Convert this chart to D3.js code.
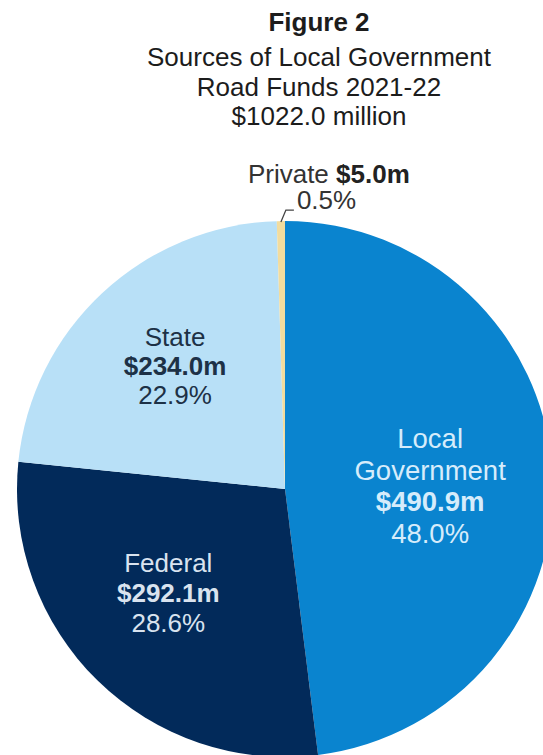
<!DOCTYPE html>
<html>
<head>
<meta charset="utf-8">
<script src="https://cdn.jsdelivr.net/npm/d3@7"></script>
<style>
  html, body { margin: 0; padding: 0; background: #ffffff; }
  svg { display: block; font-family: "Liberation Sans", Arial, Helvetica, sans-serif; }
</style>
</head>
<body>
<svg id="chart" width="543" height="755"></svg>
<script>
// Sources of local government road funds, 2021-22 ($ million)
const categories = ["Local Government", "Federal", "State", "Private"];
const values = [490.9, 292.1, 234.0, 5.0];
const nameLines = [["Local", "Government"], ["Federal"], ["State"], ["Private"]];
const titleLines = ["Figure 2", "Sources of Local Government", "Road Funds 2021-22"];

const colors = ["#0a84cf", "#022a5a", "#b8e0f7", "#f2dc9e"];
const labelColors = ["#d6ecfb", "#d9e3ef", "#1d3146", "#333333"];

const width = 543, height = 755;
const cx = 285, cy = 489, R = 268;

const svg = d3.select("#chart");
const total = d3.sum(values);
const pct = d3.format(".1%");
const money = v => "$" + d3.format(".1f")(v) + "m";

// Title block
const title = svg.append("g").attr("fill", "#1c1c1c").attr("text-anchor", "middle");
const titleX = 319;
title.append("text").attr("x", titleX).attr("y", 31)
  .attr("font-size", 26).attr("font-weight", "bold").text(titleLines[0]);
title.append("text").attr("x", titleX).attr("y", 66).attr("font-size", 26).text(titleLines[1]);
title.append("text").attr("x", titleX).attr("y", 96).attr("font-size", 26).text(titleLines[2]);
title.append("text").attr("x", titleX).attr("y", 125).attr("font-size", 26)
  .text("$" + d3.format(".1f")(total) + " million");

// Pie
const data = categories.map((c, i) => ({ name: c, value: values[i], i }));
const pie = d3.pie().sort(null).value(d => d.value);
const arcs = pie(data);
const arc = d3.arc().innerRadius(0).outerRadius(R);

const g = svg.append("g").attr("transform", `translate(${cx},${cy})`);
g.selectAll("path.slice")
  .data(arcs)
  .join("path")
  .attr("class", "slice")
  .attr("d", arc)
  .attr("fill", d => colors[d.data.i]);

// In-slice labels (name, value, share) for the three large slices
const labelArc = d3.arc().innerRadius(R * 0.58).outerRadius(R * 0.58);
const labelStyle = {
  0: { size: 27.5, lead: 31.5, nudge: [-10, 6] },
  1: { size: 26, lead: 30, nudge: [-8, -7] },
  2: { size: 26, lead: 29, nudge: [-4, -10] }
};

arcs.filter(d => d.data.i < 3).forEach(d => {
  const st = labelStyle[d.data.i];
  const [x0, y0] = labelArc.centroid(d);
  const x = x0 + st.nudge[0];
  const lines = nameLines[d.data.i].map(t => ({ t, bold: false }))
    .concat([{ t: money(d.data.value), bold: true }, { t: pct(d.data.value / total), bold: false }]);
  const n = lines.length;
  // vertical middle of the text block sits at the nudged centroid
  const blockH = (n - 1) * st.lead + st.size * 0.72;
  const firstBase = y0 + st.nudge[1] - blockH / 2 + st.size * 0.72;
  const t = g.append("text")
    .attr("text-anchor", "middle")
    .attr("font-size", st.size)
    .attr("fill", labelColors[d.data.i]);
  lines.forEach((ln, k) => {
    t.append("tspan")
      .attr("x", x)
      .attr("y", firstBase + k * st.lead)
      .attr("font-weight", ln.bold ? "bold" : "normal")
      .text(ln.t);
  });
});

// Private slice: leader line and outside label
const priv = arcs.find(d => d.data.i === 3);
const edgeArc = d3.arc().innerRadius(R - 1).outerRadius(R - 1);
const p0 = edgeArc.centroid(priv);
const p1 = [p0[0] + 5, p0[1] - 12];
const p2 = [p1[0] + 8, p1[1]];
g.append("path")
  .attr("d", d3.line()([p0, p1, p2]))
  .attr("fill", "none")
  .attr("stroke", "#444444")
  .attr("stroke-width", 1.3);

const pl = g.append("text")
  .attr("x", p2[0] - 46)
  .attr("y", p2[1] - 27)
  .attr("font-size", 26)
  .attr("fill", labelColors[3]);
pl.append("tspan").text(nameLines[3][0] + " ");
pl.append("tspan").attr("font-weight", "bold").attr("fill", "#222222").text(money(priv.data.value));

g.append("text")
  .attr("x", p2[0] + 3)
  .attr("y", p2[1] - 1)
  .attr("font-size", 26)
  .attr("fill", labelColors[3])
  .text(pct(priv.data.value / total));
</script>
</body>
</html>
